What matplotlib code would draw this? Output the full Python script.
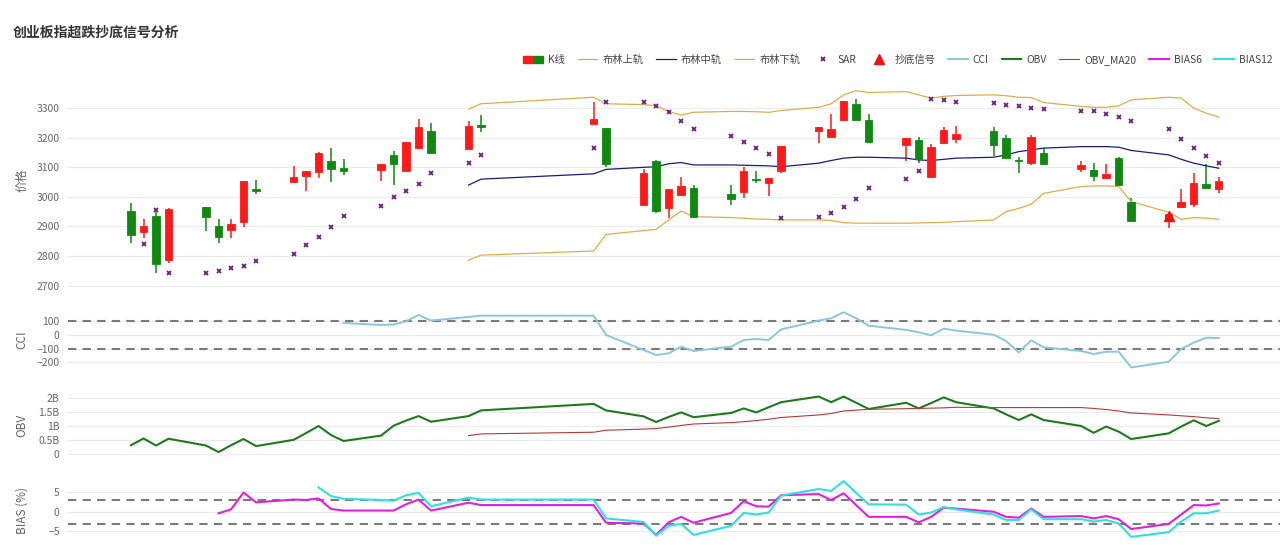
import matplotlib
matplotlib.use("Agg")
import matplotlib.pyplot as plt
import matplotlib.dates as mdates
from matplotlib.lines import Line2D
from matplotlib.patches import Patch
from matplotlib.legend_handler import HandlerTuple
import numpy as np
import pandas as pd

plt.rcParams['font.family'] = ['Noto Sans CJK SC', 'DejaVu Sans']

nan = np.nan

# 交易日
dates = ['2021-01-12', '2021-01-13', '2021-01-14', '2021-01-15',
         '2021-01-18', '2021-01-19', '2021-01-20', '2021-01-21', '2021-01-22',
         '2021-01-25', '2021-01-26', '2021-01-27', '2021-01-28', '2021-01-29',
         '2021-02-01', '2021-02-02', '2021-02-03', '2021-02-04', '2021-02-05',
         '2021-02-08', '2021-02-09',
         '2021-02-18', '2021-02-19',
         '2021-02-22', '2021-02-23', '2021-02-24', '2021-02-25', '2021-02-26',
         '2021-03-01', '2021-03-02', '2021-03-03', '2021-03-04', '2021-03-05',
         '2021-03-08', '2021-03-09', '2021-03-10', '2021-03-11', '2021-03-12',
         '2021-03-15', '2021-03-16', '2021-03-17', '2021-03-18', '2021-03-19',
         '2021-03-22', '2021-03-23', '2021-03-24', '2021-03-25', '2021-03-26',
         '2021-03-29', '2021-03-30', '2021-03-31', '2021-04-01', '2021-04-02',
         '2021-04-05', '2021-04-06', '2021-04-07', '2021-04-08', '2021-04-09']

# K线
opens = [2952, 2881, 2935, 2786, 2965, 2903, 2889, 2915, 3027, 3051,
         3070, 3083, 3122, 3099, 3091, 3141, 3086, 3165, 3223, 3162,
         3242, 3247, 3232, 2973, 3122, 2964, 3007, 3029, 3009, 3016,
         3062, 3048, 3086, 3223, 3202, 3260, 3315, 3260, 3176, 3193,
         3066, 3181, 3197, 3223, 3198, 3124, 3116, 3150, 3095, 3091,
         3063, 3133, 2981, 2922, 2967, 2975, 3043, 3026]
highs = [2978, 2924, 2950, 2961, 2965, 2924, 2924, 3055, 3057, 3105,
         3089, 3152, 3167, 3127, 3110, 3156, 3187, 3264, 3251, 3258,
         3276, 3320, 3232, 3093, 3125, 3027, 3066, 3040, 3040, 3100,
         3089, 3063, 3172, 3236, 3280, 3325, 3330, 3280, 3198, 3204,
         3178, 3235, 3240, 3236, 3210, 3134, 3210, 3165, 3120, 3114,
         3112, 3136, 2995, 2950, 3027, 3080, 3112, 3066]
lows = [2843, 2861, 2741, 2777, 2885, 2845, 2862, 2899, 3010, 3046,
        3021, 3065, 3051, 3073, 3054, 3040, 3086, 3162, 3150, 3162,
        3219, 3247, 3100, 2973, 2944, 2930, 3003, 2933, 2972, 2995,
        3046, 3003, 3082, 3181, 3202, 3260, 3260, 3185, 3122, 3114,
        3066, 3179, 3181, 3139, 3133, 3080, 3108, 3110, 3083, 3054,
        3063, 3040, 2919, 2894, 2964, 2965, 3029, 3014]
closes = [2870, 2902, 2774, 2959, 2933, 2865, 2907, 3055, 3019, 3066,
          3089, 3150, 3093, 3089, 3110, 3112, 3187, 3238, 3150, 3240,
          3237, 3264, 3110, 3080, 2952, 3027, 3038, 2933, 2992, 3086,
          3058, 3063, 3172, 3236, 3230, 3325, 3260, 3185, 3198, 3128,
          3168, 3227, 3212, 3176, 3133, 3122, 3204, 3110, 3108, 3069,
          3078, 3040, 2919, 2941, 2983, 3046, 3029, 3054]

# 抛物线转向
sar = [nan, 2841, 2956, 2741, 2741, 2750, 2759, 2767, 2784, 2807,
       2836, 2863, 2898, 2935, 2969, 2998, 3021, 3042, 3082, 3116,
       3142, 3165, 3321, 3321, 3308, 3286, 3258, 3231, 3207, 3185,
       3165, 3145, 2928, 2933, 2944, 2965, 2993, 3029, 3060, 3086,
       3332, 3326, 3320, 3316, 3310, 3306, 3301, 3297, 3292, 3289,
       3279, 3270, 3255, 3229, 3195, 3165, 3137, 3114]

# 布林带 (20日)
boll_upper = [nan] * 19 + [3297, 3315, 3337, 3315, 3312, 3308, 3289, 3277, 3286, 3289,
                           3289, 3288, 3286, 3292, 3303, 3315, 3345, 3359, 3353, 3356,
                           3345, 3334, 3340, 3343, 3345, 3342, 3337, 3336, 3319, 3306,
                           3303, 3303, 3308, 3328, 3337, 3334, 3300, 3283, 3270]
boll_mid = [nan] * 19 + [3040, 3060, 3078, 3093, 3100, 3102, 3112, 3116, 3108, 3108,
                         3107, 3106, 3105, 3102, 3114, 3123, 3131, 3134, 3134, 3131,
                         3125, 3123, 3127, 3131, 3134, 3142, 3153, 3159, 3165, 3170,
                         3170, 3170, 3168, 3157, 3142, 3127, 3114, 3105, 3097]
boll_lower = [nan] * 19 + [2786, 2803, 2817, 2873, 2886, 2890, 2922, 2952, 2933, 2930,
                           2928, 2925, 2924, 2922, 2922, 2920, 2913, 2911, 2911, 2911,
                           2912, 2913, 2914, 2916, 2922, 2950, 2961, 2975, 3012, 3035,
                           3037, 3037, 3035, 2984, 2948, 2924, 2930, 2928, 2924]

# 抄底信号
signal_dates = ['2021-04-05']
signal_prices = [2934]

# CCI (14日)
cci = [nan] * 13 + [88, 73, 76, 100, 146, 105, 132, 141, 141, 0,
                    -110, -146, -134, -85, -117, -85, -37, -29, -37, 41,
                    105, 122, 166, 122, 68, 37, 20, -2, 46, 32,
                    2, -44, -127, -39, -90, -117, -139, -122, -122, -237,
                    -195, -102, -56, -20, -22]

# OBV (十亿)
obv_bn = [0.32, 0.56, 0.31, 0.55, 0.31, 0.08, 0.32, 0.54, 0.29, 0.51,
          0.75, 1.00, 0.68, 0.47, 0.66, 1.01, 1.19, 1.35, 1.15, 1.35,
          1.55, 1.78, 1.55, 1.34, 1.14, 1.32, 1.48, 1.31, 1.46, 1.62,
          1.48, 1.66, 1.84, 2.04, 1.84, 2.04, 1.82, 1.60, 1.82, 1.62,
          1.81, 2.01, 1.84, 1.62, 1.41, 1.21, 1.41, 1.21, 1.00, 0.76,
          0.98, 0.80, 0.54, 0.74, 0.98, 1.20, 1.00, 1.18]
obv_ma20_bn = [nan] * 19 + [0.66, 0.72, 0.78, 0.85, 0.89, 0.91, 0.96, 1.02, 1.07, 1.12,
                            1.15, 1.19, 1.24, 1.30, 1.39, 1.44, 1.53, 1.56, 1.59, 1.61,
                            1.62, 1.63, 1.64, 1.66, 1.65, 1.65, 1.65, 1.65, 1.65, 1.65,
                            1.62, 1.58, 1.53, 1.46, 1.39, 1.36, 1.33, 1.29, 1.26]

# 乖离率
bias6 = [nan] * 5 + [-0.4, 0.6, 4.9, 2.4, 3.1, 3.0, 3.4, 0.7, 0.3, 0.3,
                     0.3, 1.9, 3.1, 0.3, 2.3, 1.7, 1.7, -2.8, -3.0, -5.9,
                     -2.7, -1.3, -2.8, -0.3, 2.7, 1.4, 1.3, 4.2, 4.5, 3.0,
                     4.7, 1.7, -1.3, -1.3, -2.7, -1.3, 1.0, 0.8, 0.0, -1.3,
                     -1.5, 0.8, -1.3, -1.1, -1.7, -1.1, -1.9, -4.4, -3.1, -0.7,
                     1.7, 1.6, 2.1]
bias12 = [nan] * 11 + [6.2, 4.0, 3.3, 3.0, 2.8, 4.2, 4.8, 1.4, 3.6, 3.1,
                       3.1, -1.7, -2.6, -6.1, -3.6, -3.1, -5.9, -3.6, -0.3, -0.7,
                       -0.2, 4.1, 5.8, 5.3, 7.8, 4.8, 1.9, 1.8, -0.7, -0.2,
                       1.2, 0.6, -0.7, -2.1, -2.1, 0.6, -1.9, -1.9, -2.5, -2.1,
                       -3.0, -6.4, -5.2, -2.5, -0.4, -0.4, 0.3]

price_ticks = [2700, 2800, 2900, 3000, 3100, 3200, 3300]
cci_ticks = [-200, -100, 0, 100]
obv_ticks = [0, 0.5, 1, 1.5, 2]
obv_tick_labels = ['0', '0.5B', '1B', '1.5B', '2B']
bias_ticks = [-5, 0, 5]

UP = '#ff1a1a'
DOWN = '#118811'
TICK_COLOR = '#666666'
GRID_COLOR = '#ebebeb'

x = mdates.date2num(pd.to_datetime(dates))
xs = mdates.date2num(pd.to_datetime(signal_dates))
o = np.array(opens, float)
h = np.array(highs, float)
l = np.array(lows, float)
c = np.array(closes, float)

W, H = 1280, 545
fig = plt.figure(figsize=(W / 100, H / 100), dpi=100)


def panel(top, bottom, left=68, right=1280):
    return fig.add_axes([left / W, 1 - bottom / H, (right - left) / W, (bottom - top) / H])


ax_p = panel(86, 298)
ax_c = panel(308, 371)
ax_o = panel(392, 458)
ax_b = panel(478, 540)

for ax in (ax_p, ax_c, ax_o, ax_b):
    for s in ax.spines.values():
        s.set_visible(False)
    ax.tick_params(axis='y', length=0, pad=6, labelsize=7.5, labelcolor=TICK_COLOR)
    ax.tick_params(axis='x', length=0, labelbottom=False)
    ax.grid(axis='y', color=GRID_COLOR, linewidth=0.8)
    ax.set_axisbelow(True)
    ax.set_xlim(x[0] - 5.04, x[-1] + 4.9)

# 价格面板
up = c >= o
colors = np.where(up, UP, DOWN)
ax_p.vlines(x, l, h, colors=colors, linewidth=1.1, zorder=2)
ax_p.bar(x, np.maximum(np.abs(c - o), 0.8), bottom=np.minimum(o, c), width=0.6,
         color=colors, edgecolor=colors, linewidth=0.6, zorder=3)
ax_p.plot(x, boll_upper, color='#dcae4a', linewidth=0.9, zorder=2)
ax_p.plot(x, boll_mid, color='#1a1a80', linewidth=0.9, zorder=2)
ax_p.plot(x, boll_lower, color='#dcae4a', linewidth=0.9, zorder=2)
ax_p.plot(x, sar, linestyle='none', marker='x', markersize=3.0, markeredgewidth=1.3,
          color='#6b1f7a', zorder=4)
ax_p.plot(xs, signal_prices, linestyle='none', marker='^', markersize=7, color='#ee1111', zorder=5)
ax_p.set_ylim(2658, 3375)
ax_p.set_yticks(price_ticks)

# CCI 面板
ax_c.plot(x, cci, color='#8ec5da', linewidth=1.4)
for lv in (100, -100):
    ax_c.axhline(lv, color='#7a7a7a', linewidth=1.5, linestyle=(0, (4, 3)), zorder=1)
ax_c.set_ylim(-263, 197)
ax_c.set_yticks(cci_ticks)

# OBV 面板
ax_o.plot(x, obv_bn, color='#1f7a1f', linewidth=1.5)
ax_o.plot(x, obv_ma20_bn, color='#b23a3a', linewidth=0.8)
ax_o.set_ylim(-0.13, 2.2)
ax_o.set_yticks(obv_ticks)
ax_o.set_yticklabels(obv_tick_labels)

# BIAS 面板
ax_b.plot(x, bias6, color='#dd22dd', linewidth=1.5)
ax_b.plot(x, bias12, color='#33dede', linewidth=1.5)
for lv in (3, -3):
    ax_b.axhline(lv, color='#7a7a7a', linewidth=1.5, linestyle=(0, (4, 3)), zorder=1)
ax_b.set_ylim(-7.2, 8.6)
ax_b.set_yticks(bias_ticks)

# 轴标题
for label, yc in (('价格', 180), ('CCI', 340), ('OBV', 425), ('BIAS (%)', 510)):
    fig.text(22 / W, 1 - yc / H, label, rotation=90, ha='center', va='center',
             fontsize=8.5, color=TICK_COLOR)

fig.text(13 / W, 1 - 33 / H, '创业板指超跌抄底信号分析', fontsize=10, fontweight='bold',
         color='#333333', va='center')

handles = [
    (Patch(facecolor=UP, edgecolor=UP), Patch(facecolor=DOWN, edgecolor=DOWN)),
    Line2D([], [], color='#dcae4a', linewidth=0.9),
    Line2D([], [], color='#1a1a80', linewidth=0.9),
    Line2D([], [], color='#dcae4a', linewidth=0.9),
    Line2D([], [], linestyle='none', marker='x', markersize=3.0, markeredgewidth=1.3, color='#6b1f7a'),
    Line2D([], [], linestyle='none', marker='^', markersize=7, color='#ee1111'),
    Line2D([], [], color='#8ec5da', linewidth=1.4),
    Line2D([], [], color='#1f7a1f', linewidth=1.5),
    Line2D([], [], color='#b23a3a', linewidth=0.8),
    Line2D([], [], color='#dd22dd', linewidth=1.5),
    Line2D([], [], color='#33dede', linewidth=1.5),
]
labels = ['K线', '布林上轨', '布林中轨', '布林下轨', 'SAR', '抄底信号',
          'CCI', 'OBV', 'OBV_MA20', 'BIAS6', 'BIAS12']
leg = fig.legend(handles, labels, loc='center right', bbox_to_anchor=(1282 / W, 1 - 60 / H),
                 ncol=11, frameon=False, fontsize=7.4, handlelength=1.9, handletextpad=0.5,
                 columnspacing=1.25, handler_map={tuple: HandlerTuple(ndivide=None, pad=0)})
for t in leg.get_texts():
    t.set_color('#444444')

fig.savefig('out.png', dpi=100)
